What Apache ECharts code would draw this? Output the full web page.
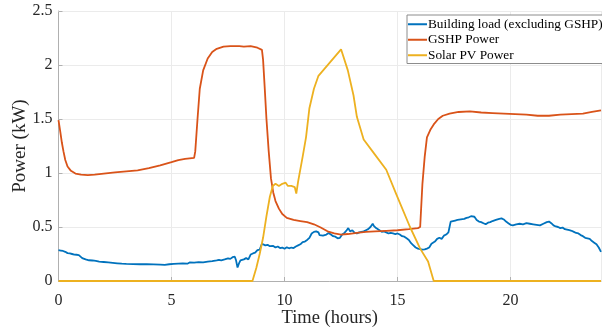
<!DOCTYPE html>
<html>
<head>
<meta charset="utf-8">
<script src="https://cdn.jsdelivr.net/npm/echarts@6/dist/echarts.min.js"></script>
<style>
html,body{margin:0;padding:0;background:#fff;}
#c{width:602px;height:330px;}
</style>
</head>
<body>
<div id="c"></div>
<script>
// ---- data (hours, kW) ----
var seriesNames = ['Building load (excluding GSHP)', 'GSHP Power', 'Solar PV Power'];
var xTicks = [0, 5, 10, 15, 20];
var yTicks = [0, 0.5, 1, 1.5, 2, 2.5];

var buildingLoad = [
[0.0,0.285],[0.1,0.282],[0.2,0.278],[0.3,0.27],[0.4,0.258],[0.5,0.255],[0.6,0.25],[0.7,0.245],[0.8,0.243],[0.9,0.24],
[0.95,0.222],[1.05,0.212],[1.1,0.198],[1.2,0.2],[1.35,0.192],[1.5,0.19],[1.65,0.186],[1.8,0.18],[2.0,0.176],[2.2,0.172],
[2.4,0.168],[2.6,0.164],[2.8,0.16],[3.0,0.158],[3.3,0.157],[3.6,0.155],[3.9,0.156],[4.2,0.154],[4.5,0.152],[4.7,0.15],
[4.9,0.155],[5.1,0.158],[5.3,0.16],[5.5,0.162],[5.7,0.16],[5.8,0.172],[6.0,0.17],[6.2,0.175],[6.4,0.172],[6.6,0.18],
[6.8,0.184],[7.0,0.19],[7.1,0.196],[7.2,0.192],[7.35,0.2],[7.5,0.21],[7.6,0.205],[7.7,0.22],[7.8,0.225],[7.85,0.195],
[7.92,0.125],[7.98,0.16],[8.05,0.19],[8.12,0.175],[8.2,0.2],[8.3,0.212],[8.4,0.2],[8.5,0.245],[8.6,0.255],[8.7,0.262],
[8.8,0.285],[8.9,0.29],[9.0,0.345],[9.05,0.338],[9.15,0.33],[9.25,0.335],[9.35,0.322],[9.5,0.325],[9.6,0.31],[9.7,0.32],
[9.8,0.305],[9.9,0.31],[10.0,0.298],[10.1,0.312],[10.2,0.303],[10.3,0.31],[10.4,0.305],[10.5,0.32],[10.6,0.33],[10.7,0.34],
[10.8,0.36],[10.9,0.365],[11.0,0.38],[11.1,0.4],[11.2,0.44],[11.3,0.455],[11.4,0.46],[11.5,0.45],[11.55,0.425],[11.6,0.44],
[11.7,0.42],[11.75,0.435],[11.85,0.43],[11.95,0.445],[12.05,0.43],[12.15,0.415],[12.25,0.41],[12.35,0.395],[12.45,0.4],[12.55,0.43],
[12.65,0.445],[12.75,0.47],[12.82,0.49],[12.9,0.46],[13.0,0.47],[13.1,0.445],[13.2,0.44],[13.3,0.45],[13.4,0.455],[13.5,0.46],
[13.6,0.47],[13.7,0.48],[13.8,0.5],[13.9,0.53],[13.95,0.51],[14.05,0.49],[14.1,0.5],[14.2,0.47],[14.3,0.455],[14.4,0.46],
[14.5,0.45],[14.6,0.44],[14.7,0.445],[14.8,0.44],[14.9,0.435],[15.0,0.44],[15.1,0.43],[15.2,0.415],[15.3,0.41],[15.4,0.395],
[15.5,0.38],[15.6,0.35],[15.7,0.33],[15.8,0.31],[15.9,0.3],[16.0,0.295],[16.1,0.29],[16.2,0.292],[16.3,0.3],[16.4,0.31],
[16.5,0.345],[16.55,0.34],[16.65,0.365],[16.75,0.39],[16.85,0.4],[16.95,0.39],[17.05,0.42],[17.15,0.43],[17.25,0.45],[17.3,0.5],
[17.35,0.55],[17.45,0.555],[17.55,0.56],[17.65,0.565],[17.8,0.57],[17.95,0.575],[18.05,0.585],[18.15,0.59],[18.25,0.6],[18.3,0.585],
[18.4,0.595],[18.5,0.565],[18.6,0.55],[18.7,0.545],[18.8,0.535],[18.9,0.525],[19.0,0.54],[19.1,0.545],[19.2,0.555],[19.35,0.565],
[19.5,0.575],[19.6,0.58],[19.7,0.57],[19.8,0.55],[19.9,0.535],[20.0,0.52],[20.1,0.515],[20.25,0.525],[20.4,0.53],[20.55,0.525],
[20.7,0.535],[20.85,0.53],[21.0,0.525],[21.15,0.52],[21.3,0.515],[21.45,0.53],[21.6,0.545],[21.7,0.55],[21.8,0.535],[21.9,0.515],
[22.0,0.505],[22.1,0.5],[22.2,0.49],[22.3,0.495],[22.4,0.48],[22.5,0.475],[22.6,0.47],[22.7,0.465],[22.8,0.455],[22.9,0.445],
[23.0,0.44],[23.1,0.425],[23.2,0.415],[23.3,0.4],[23.4,0.395],[23.5,0.39],[23.6,0.37],[23.7,0.355],[23.8,0.34],[23.9,0.31],[24.0,0.27]
];

var gshpPower = [
[0,1.49],[0.08,1.38],[0.15,1.28],[0.22,1.2],[0.3,1.12],[0.4,1.06],[0.55,1.02],[0.75,0.995],[1.0,0.985],[1.3,0.98],
[1.6,0.985],[2.0,0.995],[2.5,1.005],[3.0,1.015],[3.5,1.025],[4.0,1.045],[4.5,1.07],[5.0,1.1],[5.3,1.12],[5.6,1.13],
[6.0,1.14],[6.05,1.2],[6.15,1.5],[6.25,1.78],[6.4,1.95],[6.6,2.06],[6.8,2.12],[7.0,2.15],[7.3,2.17],[7.6,2.175],
[8.0,2.175],[8.2,2.17],[8.5,2.175],[8.8,2.16],[9.0,2.14],[9.05,2.05],[9.12,1.8],[9.2,1.5],[9.3,1.2],[9.4,0.95],
[9.5,0.82],[9.6,0.74],[9.75,0.67],[9.9,0.62],[10.1,0.585],[10.4,0.565],[10.7,0.555],[11.0,0.545],[11.3,0.525],[11.6,0.495],
[11.9,0.46],[12.2,0.44],[12.5,0.43],[12.8,0.435],[13.2,0.445],[13.6,0.455],[14.0,0.46],[14.5,0.465],[15.0,0.47],[15.5,0.48],
[15.9,0.49],[16.0,0.5],[16.1,0.9],[16.2,1.15],[16.3,1.33],[16.45,1.4],[16.6,1.45],[16.8,1.5],[17.0,1.53],[17.3,1.55],
[17.7,1.565],[18.2,1.57],[18.7,1.56],[19.2,1.555],[19.7,1.55],[20.2,1.545],[20.7,1.54],[21.2,1.53],[21.7,1.53],[22.2,1.54],
[22.7,1.545],[23.2,1.55],[23.6,1.565],[24.0,1.58]
];

var solarPV = [
[0,0],[8.58,0],[8.75,0.12],[8.9,0.25],[9.05,0.4],[9.2,0.6],[9.35,0.78],[9.48,0.88],[9.6,0.9],[9.75,0.88],
[9.9,0.9],[10.05,0.91],[10.15,0.88],[10.3,0.88],[10.45,0.87],[10.52,0.81],[10.6,0.92],[10.8,1.15],[10.95,1.33],[11.1,1.6],
[11.3,1.78],[11.5,1.9],[12.5,2.145],[12.8,1.95],[13.05,1.72],[13.2,1.52],[13.5,1.31],[14.0,1.17],[14.5,1.03],[14.95,0.8],
[15.55,0.5],[16.0,0.3],[16.35,0.18],[16.6,0],[24,0]
];

var colors = ['#0072BD', '#D95319', '#EDB120'];
var FONT = '"Liberation Serif", "Times New Roman", serif';

var chart = echarts.init(document.getElementById('c'), null, {renderer: 'canvas'});
function mk(name, data, color) {
  return {
    name: name, type: 'line', data: data, symbol: 'none', showSymbol: false,
    lineStyle: {color: color, width: 1.8}, itemStyle: {color: color},
    animation: false, z: 3
  };
}
chart.setOption({
  animation: false,
  color: colors,
  grid: {left: 58.5, right: 1, top: 11, bottom: 49, containLabel: false, outerBoundsMode: 'none'},
  legend: {
    orient: 'vertical', left: 407, top: 15,
    data: seriesNames.map(function (n, i) {
      return {name: n, icon: 'rect', itemStyle: {color: colors[i]}};
    }),
    backgroundColor: '#fff', borderColor: '#8c8c8c', borderWidth: 1, borderRadius: 0,
    padding: [2, 4, 1, 1], itemGap: 1, itemWidth: 19, itemHeight: 2,
    textStyle: {fontFamily: FONT, fontSize: 13.3, color: '#000', padding: [0,0,0,-4], lineHeight: 14.5}
  },
  xAxis: [{
    type: 'value', min: 0, max: 24, interval: 5,
    name: 'Time (hours)', nameLocation: 'middle', nameGap: 28, nameMoveOverlap: false,
    nameTextStyle: {fontFamily: FONT, fontSize: 18.5, color: '#262626'},
    axisLine: {show: true, lineStyle: {color: '#b0b0b0', width: 1}},
    axisTick: {show: true, inside: true, length: 4, lineStyle: {color: '#b0b0b0'}},
    axisLabel: {fontFamily: FONT, fontSize: 16, color: '#262626', margin: 12, showMaxLabel: false,
      formatter: function (v) { return xTicks.indexOf(v) >= 0 ? String(v) : ''; }},
    splitLine: {show: true, lineStyle: {color: '#ebebeb', width: 1}}
  }, {
    type: 'value', min: 0, max: 24, position: 'top',
    axisLine: {show: true, lineStyle: {color: '#ebebeb', width: 1}},
    axisTick: {show: false}, axisLabel: {show: false}, splitLine: {show: false}
  }],
  yAxis: {
    type: 'value', min: 0, max: 2.5, interval: 0.5,
    name: 'Power (kW)', nameLocation: 'middle', nameGap: 29, nameMoveOverlap: false,
    nameTextStyle: {fontFamily: FONT, fontSize: 19, color: '#262626'},
    axisLine: {show: true, lineStyle: {color: '#b0b0b0', width: 1}},
    axisTick: {show: true, inside: true, length: 4, lineStyle: {color: '#b0b0b0'}},
    axisLabel: {fontFamily: FONT, fontSize: 16, color: '#262626', margin: 6,
      formatter: function (v) { return yTicks.indexOf(v) >= 0 ? String(v) : ''; }},
    splitLine: {show: true, lineStyle: {color: '#ebebeb', width: 1}}
  },
  series: [
    mk(seriesNames[0], buildingLoad, colors[0]),
    mk(seriesNames[1], gshpPower, colors[1]),
    mk(seriesNames[2], solarPV, colors[2])
  ]
});
</script>
</body>
</html>
